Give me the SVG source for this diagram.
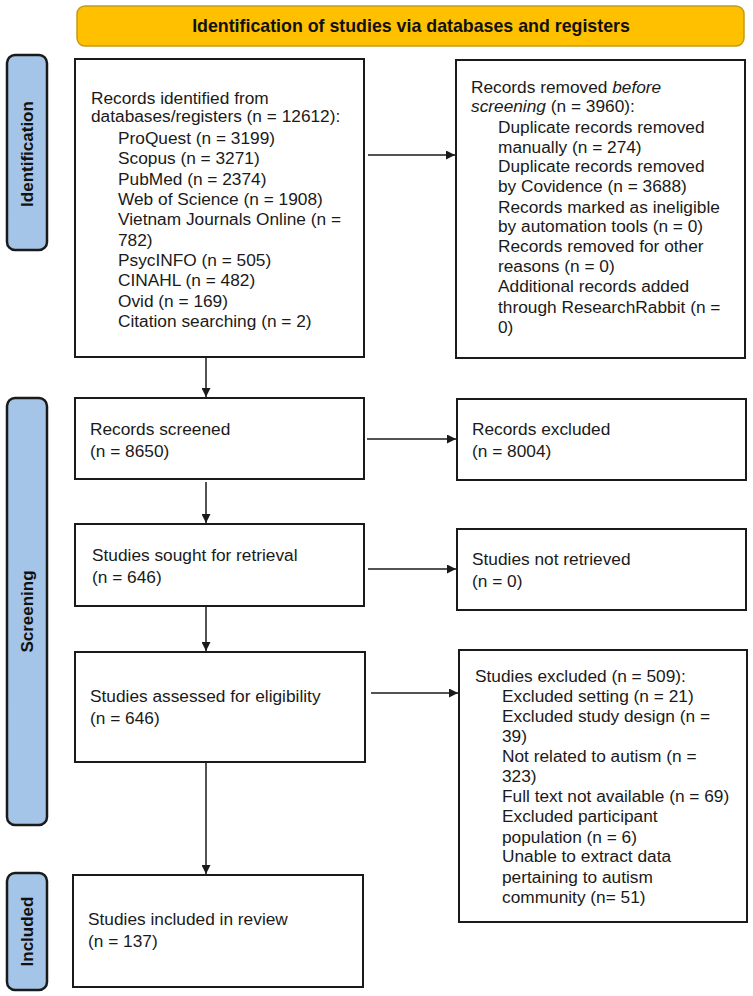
<svg xmlns="http://www.w3.org/2000/svg" width="753" height="996" viewBox="0 0 753 996">
<style>
.bg{fill:#ffffff}
.box{fill:#ffffff;stroke:#1a1a1a;stroke-width:2}
.side{fill:#a4c4e8;stroke:#1a1a1a;stroke-width:2.5}
.hdr{fill:#ffc000;stroke:#c49a1a;stroke-width:1.5}
.t{font-family:"Liberation Sans",Arial,sans-serif;font-size:17.3px;fill:#1a1a1a}
.b{font-family:"Liberation Sans",Arial,sans-serif;font-size:17px;font-weight:bold;fill:#111111}
.h{font-family:"Liberation Sans",Arial,sans-serif;font-size:17.8px;font-weight:bold;fill:#111111}
.conn{stroke:#1a1a1a;stroke-width:1.5;fill:none}
</style>
<defs>
<marker id="ah" viewBox="0 0 10 10" refX="10" refY="5" markerWidth="10" markerHeight="9" markerUnits="userSpaceOnUse" orient="auto">
<path d="M0,0 L10,5 L0,10 z" fill="#1a1a1a"/>
</marker>
</defs>
<rect class="bg" x="0" y="0" width="753" height="996"/>

<g id="header">
<rect class="hdr" x="77" y="6" width="667" height="40" rx="8"/>
<text class="h" x="411" y="32" text-anchor="middle">Identification of studies via databases and registers</text>
</g>

<g id="phase-identification">
<rect class="side" x="7" y="55" width="40" height="195" rx="8"/>
<text class="b" transform="translate(33,154) rotate(-90)" text-anchor="middle">Identification</text>
</g>
<g id="phase-screening">
<rect class="side" x="7" y="398" width="40" height="427" rx="8"/>
<text class="b" transform="translate(33,611.5) rotate(-90)" text-anchor="middle">Screening</text>
</g>
<g id="phase-included">
<rect class="side" x="7" y="873" width="40" height="117" rx="8"/>
<text class="b" transform="translate(33,931.5) rotate(-90)" text-anchor="middle">Included</text>
</g>

<g id="records-identified">
<rect class="box" x="75" y="59" width="289" height="298"/>
<text class="t" x="91" y="104">Records identified from</text>
<text class="t" x="91" y="122">databases/registers (n = 12612):</text>
<text class="t" x="118" y="144">ProQuest (n = 3199)</text>
<text class="t" x="118" y="164">Scopus (n = 3271)</text>
<text class="t" x="118" y="185">PubMed (n = 2374)</text>
<text class="t" x="118" y="205">Web of Science (n = 1908)</text>
<text class="t" x="118" y="225">Vietnam Journals Online (n =</text>
<text class="t" x="118" y="246">782)</text>
<text class="t" x="118" y="266">PsycINFO (n = 505)</text>
<text class="t" x="118" y="286">CINAHL (n = 482)</text>
<text class="t" x="118" y="307">Ovid (n = 169)</text>
<text class="t" x="118" y="327">Citation searching (n = 2)</text>
</g>

<g id="records-removed">
<rect class="box" x="456" y="60" width="289" height="298"/>
<text class="t" x="471" y="93">Records removed <tspan font-style="italic">before</tspan></text>
<text class="t" x="471" y="112"><tspan font-style="italic">screening</tspan> (n = 3960):</text>
<text class="t" x="498" y="133">Duplicate records removed</text>
<text class="t" x="498" y="153">manually (n = 274)</text>
<text class="t" x="498" y="172">Duplicate records removed</text>
<text class="t" x="498" y="192">by Covidence (n = 3688)</text>
<text class="t" x="498" y="213">Records marked as ineligible</text>
<text class="t" x="498" y="232">by automation tools (n = 0)</text>
<text class="t" x="498" y="252">Records removed for other</text>
<text class="t" x="498" y="272">reasons (n = 0)</text>
<text class="t" x="498" y="292">Additional records added</text>
<text class="t" x="498" y="313">through ResearchRabbit (n =</text>
<text class="t" x="498" y="333">0)</text>
</g>

<g id="records-screened">
<rect class="box" x="75" y="398" width="289" height="81"/>
<text class="t" x="90" y="435">Records screened</text>
<text class="t" x="90" y="457">(n = 8650)</text>
</g>

<g id="records-excluded">
<rect class="box" x="457" y="399" width="289" height="81"/>
<text class="t" x="472" y="435">Records excluded</text>
<text class="t" x="472" y="457">(n = 8004)</text>
</g>

<g id="sought-retrieval">
<rect class="box" x="75" y="524" width="289" height="82"/>
<text class="t" x="92" y="561">Studies sought for retrieval</text>
<text class="t" x="92" y="583">(n = 646)</text>
</g>

<g id="not-retrieved">
<rect class="box" x="457" y="529" width="289" height="81"/>
<text class="t" x="472" y="565">Studies not retrieved</text>
<text class="t" x="472" y="587">(n = 0)</text>
</g>

<g id="assessed-eligibility">
<rect class="box" x="75" y="652" width="290" height="110"/>
<text class="t" x="90" y="702">Studies assessed for eligibility</text>
<text class="t" x="90" y="724">(n = 646)</text>
</g>

<g id="studies-excluded">
<rect class="box" x="459" y="650" width="288" height="272"/>
<text class="t" x="475" y="682">Studies excluded (n = 509):</text>
<text class="t" x="502" y="702">Excluded setting (n = 21)</text>
<text class="t" x="502" y="722">Excluded study design (n =</text>
<text class="t" x="502" y="742">39)</text>
<text class="t" x="502" y="762">Not related to autism (n =</text>
<text class="t" x="502" y="782">323)</text>
<text class="t" x="502" y="802">Full text not available (n = 69)</text>
<text class="t" x="502" y="822">Excluded participant</text>
<text class="t" x="502" y="843">population (n = 6)</text>
<text class="t" x="502" y="862">Unable to extract data</text>
<text class="t" x="502" y="883">pertaining to autism</text>
<text class="t" x="502" y="903">community (n= 51)</text>
</g>

<g id="included-review">
<rect class="box" x="73" y="875" width="290" height="112"/>
<text class="t" x="88" y="925">Studies included in review</text>
<text class="t" x="88" y="947">(n = 137)</text>
</g>

<g id="connectors">
<line class="conn" x1="368" y1="155" x2="455" y2="155" marker-end="url(#ah)"/>
<line class="conn" x1="206" y1="357" x2="206" y2="397" marker-end="url(#ah)"/>
<line class="conn" x1="367" y1="439" x2="456" y2="439" marker-end="url(#ah)"/>
<line class="conn" x1="206" y1="482" x2="206" y2="523" marker-end="url(#ah)"/>
<line class="conn" x1="368" y1="569" x2="456" y2="569" marker-end="url(#ah)"/>
<line class="conn" x1="206" y1="607" x2="206" y2="651" marker-end="url(#ah)"/>
<line class="conn" x1="371" y1="693" x2="458" y2="693" marker-end="url(#ah)"/>
<line class="conn" x1="206" y1="763" x2="206" y2="874" marker-end="url(#ah)"/>
</g>
</svg>
